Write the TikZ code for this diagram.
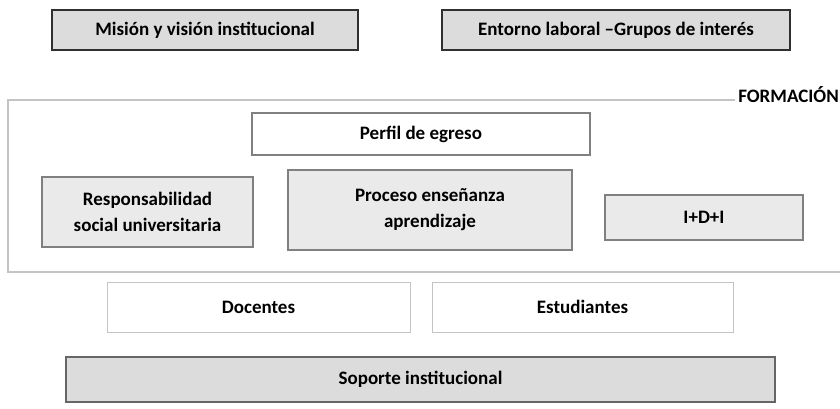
\documentclass[tikz,border=0pt]{standalone}
\usepackage{fontspec}
\setmainfont{Carlito}
\usetikzlibrary{positioning}

\definecolor{boxgray}{HTML}{DCDCDC}
\definecolor{darkline}{HTML}{303030}
\definecolor{midline}{HTML}{808080}
\definecolor{lightline}{HTML}{C4C4C4}

\tikzset{
  base/.style={font=\bfseries\fontsize{19}{26}\selectfont, align=center, inner sep=0pt},
  topbox/.style={base, draw=darkline, line width=2.2pt, fill=boxgray},
  corebox/.style={base, draw=midline, line width=1.8pt, fill=boxgray!60},
  whitebox/.style={base, draw=midline, line width=1.6pt, fill=white},
  actorbox/.style={base, draw=lightline, line width=1pt, fill=white},
  supportbox/.style={base, draw=midline!80!black, line width=2.4pt, fill=boxgray}
}

\begin{document}
\begin{tikzpicture}[x=1pt,y=-1pt]
    \useasboundingbox (0,0) rectangle (840,408);

    %top row: mission and environment
    \node[topbox, minimum width=306pt, minimum height=40pt] (mision) at (205,30) {Misión y visión institucional};
    \node[topbox, minimum width=348pt, minimum height=40pt] (entorno) at (616,30) {Entorno laboral --Grupos de interés};

    %frame for the training block
    \draw[lightline, line width=1.2pt] (735,100) -- (8,100) -- (8,272) -- (840,272);
    \node[base, anchor=south east] (formacion) at (839,103) {FORMACIÓN};

    %boxes inside the frame
    \node[whitebox, minimum width=338pt, minimum height=42pt] (perfil) at (421,134) {Perfil de egreso};
    \node[corebox, minimum width=211pt, minimum height=70pt] (rsu) at (147.5,212) {Responsabilidad\\social universitaria};
    \node[corebox, minimum width=284pt, minimum height=80pt] (proceso) at (430,210) {Proceso enseñanza\\aprendizaje};
    \node[corebox, minimum width=198pt, minimum height=45pt] (idi) at (704,217.5) {I+D+I};

    %actors
    \node[actorbox, minimum width=303pt, minimum height=50pt] (docentes) at (258.5,307) {Docentes};
    \node[actorbox, minimum width=301pt, minimum height=50pt] (estudiantes) at (582.5,307) {Estudiantes};

    %base of the structure
    \node[supportbox, minimum width=709pt, minimum height=45pt] (soporte) at (420.5,379.5) {Soporte institucional};
\end{tikzpicture}
\end{document}
